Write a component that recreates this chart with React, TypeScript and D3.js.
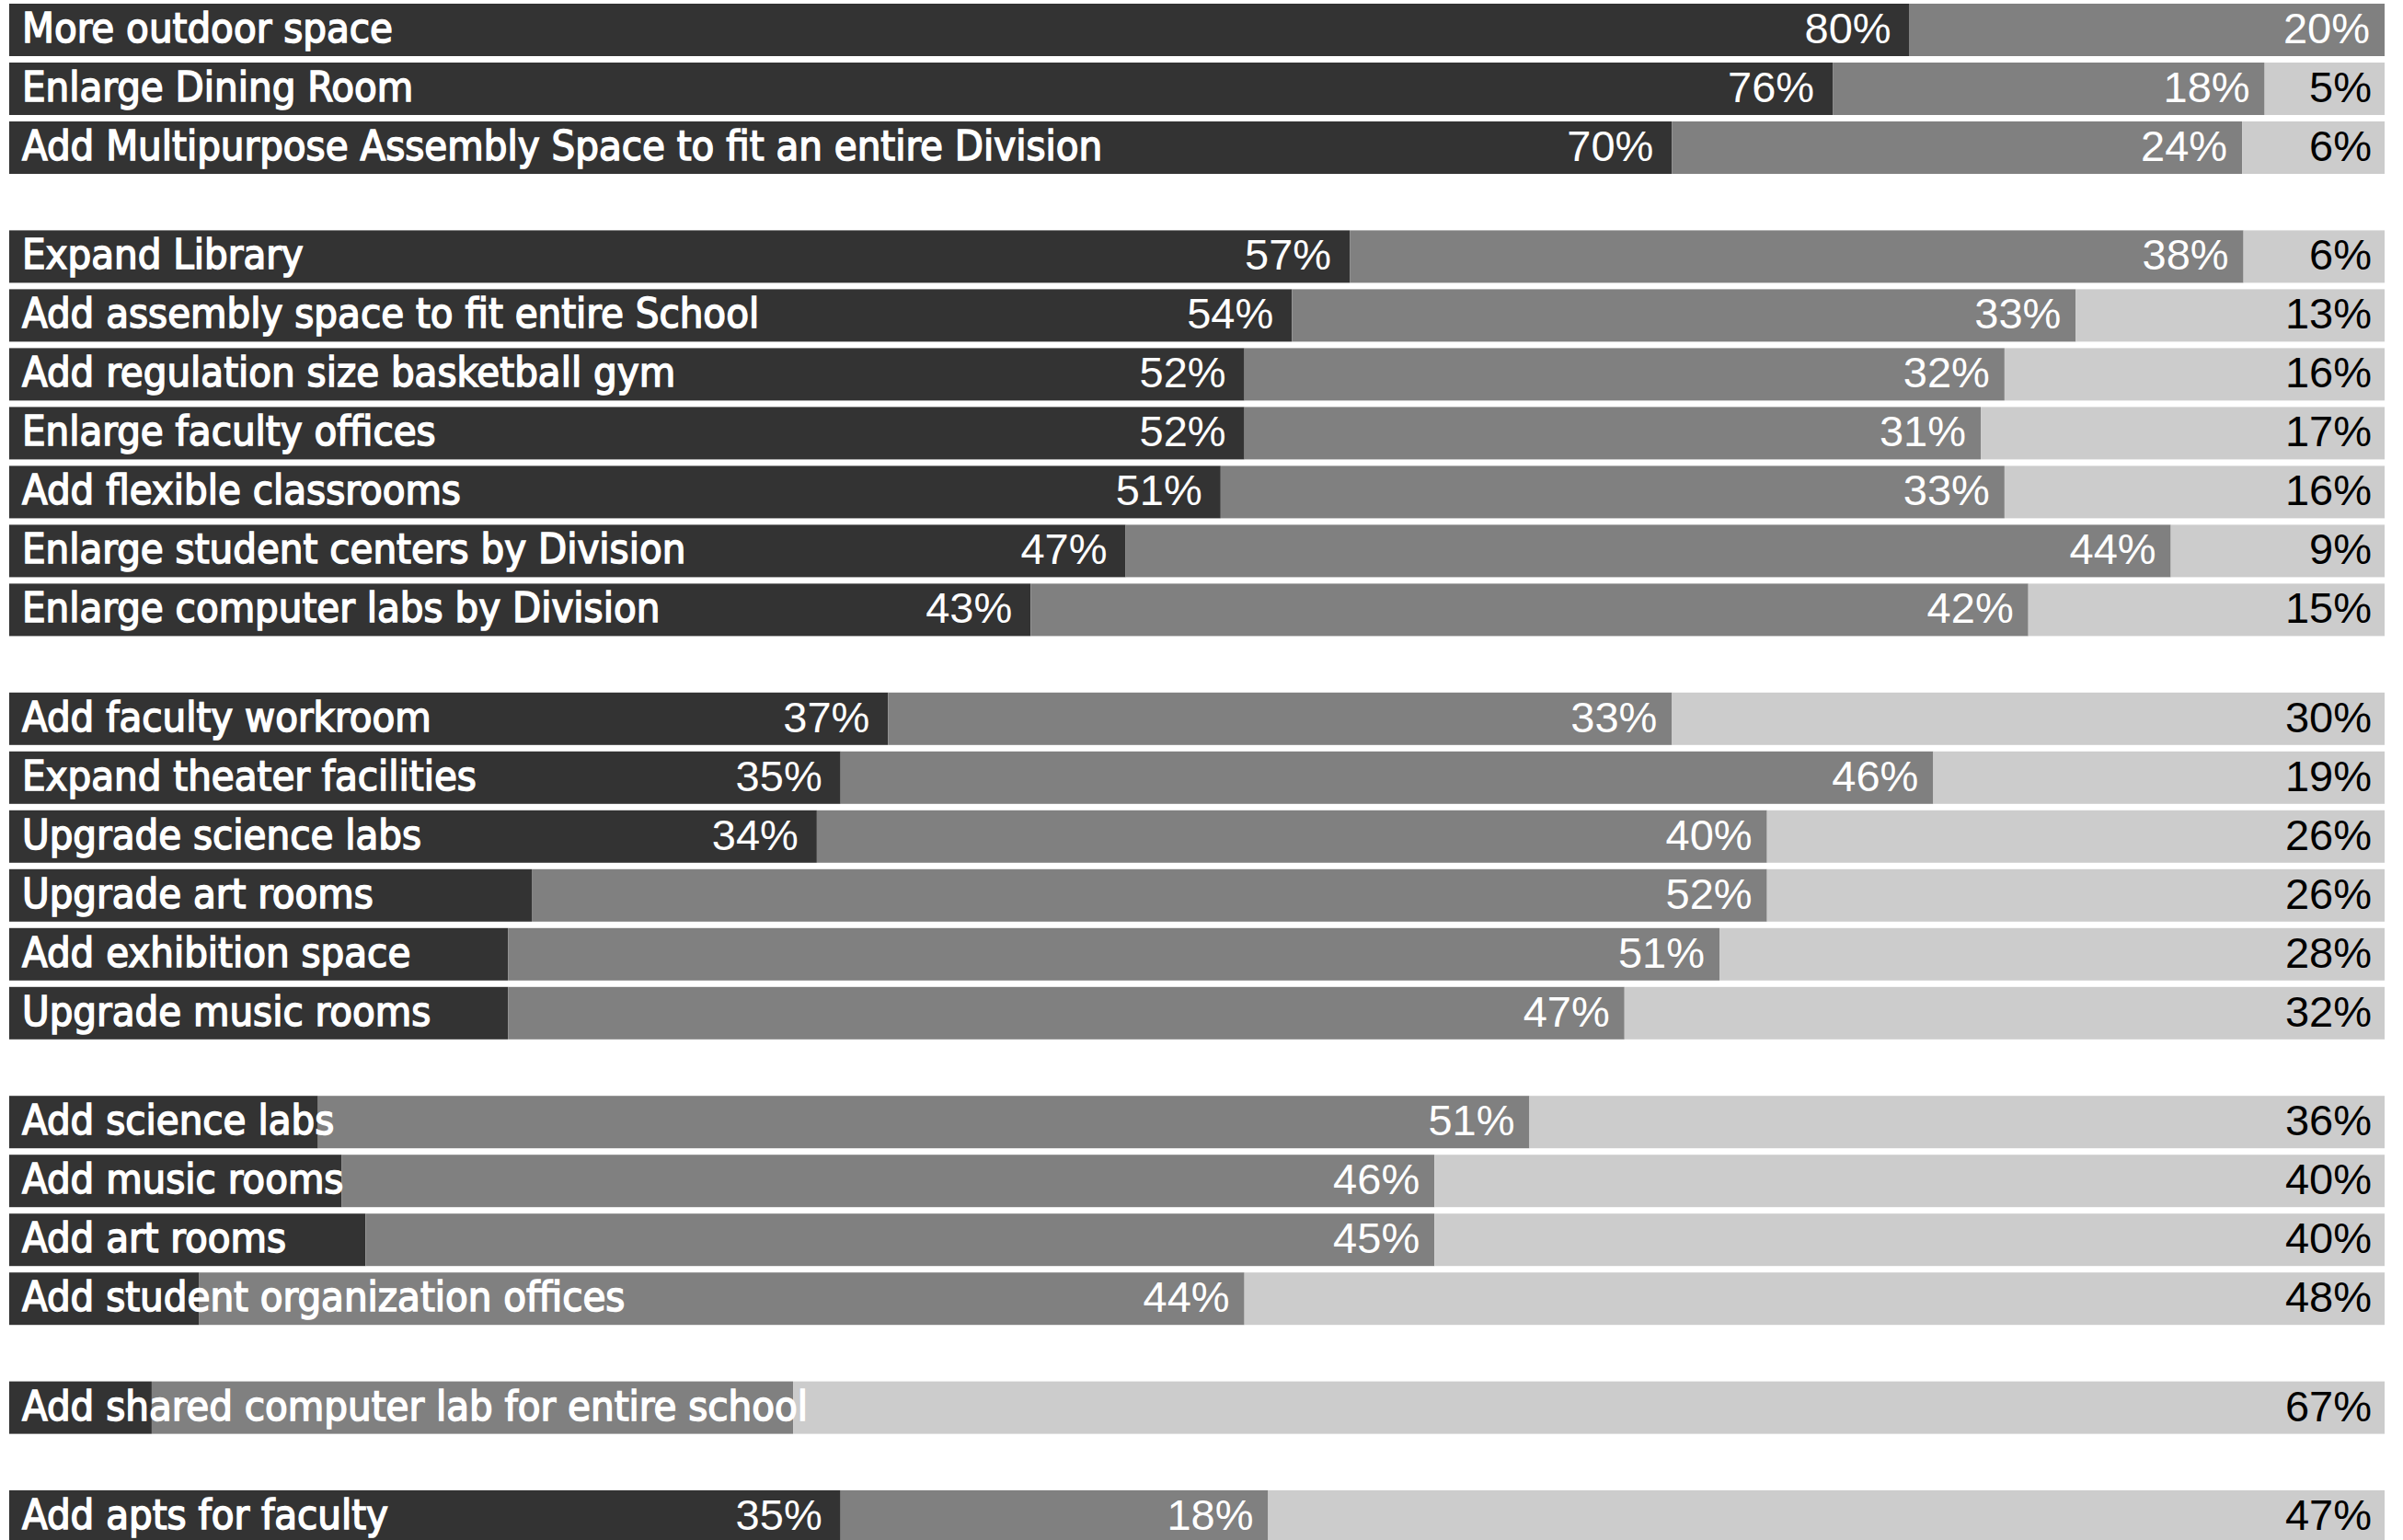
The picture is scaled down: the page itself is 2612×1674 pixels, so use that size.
import React, { useEffect, useRef } from "react";
import * as d3 from "d3";

const categories = [
  "More outdoor space",
  "Enlarge Dining Room",
  "Add Multipurpose Assembly Space to fit an entire Division",
  "Expand Library",
  "Add assembly space to fit entire School",
  "Add regulation size basketball gym",
  "Enlarge faculty offices",
  "Add flexible classrooms",
  "Enlarge student centers by Division",
  "Enlarge computer labs by Division",
  "Add faculty workroom",
  "Expand theater facilities",
  "Upgrade science labs",
  "Upgrade art rooms",
  "Add exhibition space",
  "Upgrade music rooms",
  "Add science labs",
  "Add music rooms",
  "Add art rooms",
  "Add student organization offices",
  "Add shared computer lab for entire school",
  "Add apts for faculty",
];

const groupIndex = [0, 0, 0, 1, 1, 1, 1, 1, 1, 1, 2, 2, 2, 2, 2, 2, 3, 3, 3, 3, 4, 5];

const darkValues = [80, 76, 70, 57, 54, 52, 52, 51, 47, 43, 37, 35, 34, 22, 21, 21, 13, 14, 15, 8, 6, 35];
const grayValues = [20, 18, 24, 38, 33, 32, 31, 33, 44, 42, 33, 46, 40, 52, 51, 47, 51, 46, 45, 44, 27, 18];
const lightValues = [0, 5, 6, 6, 13, 16, 17, 16, 9, 15, 30, 19, 26, 26, 28, 32, 36, 40, 40, 48, 67, 47];

const seriesKeys = ["dark", "gray", "light"];
const seriesColors: Record<string, string> = { dark: "#333333", gray: "#808080", light: "#cccccc" };
const labelColors: Record<string, string> = { dark: "#ffffff", gray: "#ffffff", light: "#000000" };
const labelPads: Record<string, number> = { dark: 20, gray: 16, light: 14 };

export default function App() {
  const ref = useRef<SVGSVGElement>(null);

  useEffect(() => {
    const W = 2612;
    const H = 1674;
    const svg = d3.select(ref.current);
    svg.selectAll("*").remove();
    svg.append("rect").attr("width", W).attr("height", H).attr("fill", "#ffffff");

    const rows = categories.map((cat, i) => ({
      cat,
      i,
      g: groupIndex[i],
      dark: darkValues[i],
      gray: grayValues[i],
      light: lightValues[i],
    }));

    const pitch = 64.0;
    const bandH = 57;
    const gapFrac = 0.85;
    const slot = (r: any) => r.i + gapFrac * r.g;
    const maxSlot = d3.max(rows, slot) as number;
    const y = d3.scaleLinear().domain([0, maxSlot]).range([4, 4 + maxSlot * pitch]);
    const x = d3.scaleLinear().domain([0, 1]).range([10, 2592]);

    const stack = d3.stack<any>().keys(seriesKeys).offset(d3.stackOffsetExpand);
    const series = stack(rows as any);

    const barsG = svg.append("g");
    series.forEach((s) => {
      barsG
        .append("g")
        .attr("fill", seriesColors[s.key])
        .selectAll("rect")
        .data(s)
        .join("rect")
        .attr("x", (d: any) => x(d[0]))
        .attr("width", (d: any) => Math.max(0, x(d[1]) - x(d[0])))
        .attr("y", (d: any) => y(slot(d.data)))
        .attr("height", bandH);
    });

    // category labels
    const catG = svg.append("g");
    const catTexts = catG
      .selectAll("text")
      .data(rows)
      .join("text")
      .attr("x", 24)
      .attr("y", (d) => y(slot(d)) + 42)
      .attr("fill", "#ffffff")
      .attr("stroke", "#ffffff")
      .attr("stroke-width", 1.5)
      .style("font-family", "'DejaVu Sans Condensed', 'DejaVu Sans', sans-serif")
      .style("font-stretch", "condensed")
      .style("font-size", "45px")
      .text((d) => d.cat);

    const catEnd: number[] = [];
    catTexts.each(function (d: any) {
      const node = this as SVGTextElement;
      catEnd[d.i] = 24 + node.getComputedTextLength();
    });

    // percent labels
    const pctG = svg.append("g");
    series.forEach((s) => {
      const pad = labelPads[s.key];
      s.forEach((d: any) => {
        const r = d.data;
        const v = r[s.key];
        if (!v) return;
        if (s.key === "dark" && v < 30) return;
        const t = pctG
          .append("text")
          .attr("x", x(d[1]) - pad)
          .attr("y", y(slot(r)) + 43)
          .attr("text-anchor", "end")
          .attr("fill", labelColors[s.key])
          .style("font-family", "'Liberation Sans', Arial, sans-serif")
          .style("font-size", "47px")
          .text(`${v}%`);
        const len = (t.node() as SVGTextElement).getComputedTextLength();
        if (x(d[1]) - pad - len < catEnd[r.i] + 10) t.remove();
      });
    });
  }, []);

  return (
    <svg
      ref={ref}
      width={2612}
      height={1674}
      style={{ position: "absolute", left: 0, top: 0, display: "block" }}
    />
  );
}
